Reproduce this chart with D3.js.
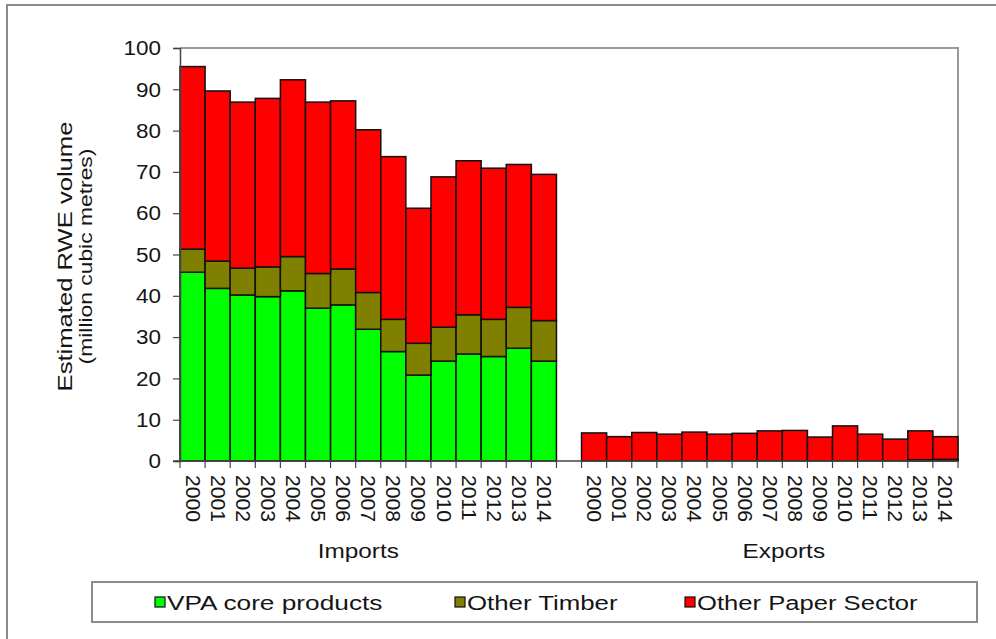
<!DOCTYPE html>
<html>
<head>
<meta charset="utf-8">
<script src="https://cdn.jsdelivr.net/npm/d3@7/dist/d3.min.js"></script>
<style>
  html, body { margin: 0; padding: 0; background: #fff; }
  svg { display: block; font-family: "Liberation Sans", Arial, sans-serif; }
</style>
</head>
<body>
<svg id="chart" width="996" height="639"></svg>
<script>
// Estimated RWE volume (million cubic metres), imports and exports by year
const years = ["2000","2001","2002","2003","2004","2005","2006","2007","2008","2009","2010","2011","2012","2013","2014"];
const groups = ["Imports", "Exports"];
const seriesNames = ["VPA core products", "Other Timber", "Other Paper Sector"];
const seriesColors = ["#00ff00", "#808000", "#ff0000"];

const importsVPA    = [45.7, 41.8, 40.2, 39.8, 41.2, 37.0, 37.8, 31.9, 26.5, 20.8, 24.2, 25.9, 25.3, 27.3, 24.2];
const importsTimber = [5.6, 6.6, 6.5, 7.2, 8.3, 8.4, 8.7, 8.9, 7.8, 7.7, 8.2, 9.5, 9.0, 9.9, 9.8];
const importsPaper  = [44.2, 41.2, 40.2, 40.8, 42.8, 41.5, 40.7, 39.4, 39.4, 32.7, 36.4, 37.3, 36.6, 34.6, 35.4];

const exportsVPA    = [0, 0, 0, 0, 0, 0, 0, 0, 0, 0, 0, 0, 0, 0.1, 0.3];
const exportsTimber = [0, 0, 0, 0, 0, 0, 0, 0, 0, 0, 0, 0, 0, 0.2, 0.1];
const exportsPaper  = [6.8, 5.9, 6.9, 6.5, 7.0, 6.5, 6.7, 7.3, 7.4, 5.8, 8.5, 6.5, 5.3, 7.0, 5.5];

const yTicks = [0, 10, 20, 30, 40, 50, 60, 70, 80, 90, 100];

// Build rows: imports, an empty spacer category, then exports
const rows = [];
years.forEach((y, i) => rows.push({ key: "I" + y, year: y, group: "Imports", v: [importsVPA[i], importsTimber[i], importsPaper[i]] }));
rows.push({ key: "gap", year: "", group: null, v: [0, 0, 0] });
years.forEach((y, i) => rows.push({ key: "E" + y, year: y, group: "Exports", v: [exportsVPA[i], exportsTimber[i], exportsPaper[i]] }));

const svg = d3.select("#chart");
const plot = { left: 180, right: 958, top: 48, bottom: 461 };
const textColor = "#151515";

const x = d3.scaleBand().domain(rows.map(r => r.key)).range([plot.left, plot.right]).padding(0);
const y = d3.scaleLinear().domain([0, 100]).range([plot.bottom, plot.top]);

// Outer frame
svg.append("path")
  .attr("d", `M7,639 L7,5 L996,5`)
  .attr("fill", "none").attr("stroke", "#8c8c8c").attr("stroke-width", 2);

// Plot area frame (top and right)
svg.append("path")
  .attr("d", `M${plot.left},${plot.top} L${plot.right},${plot.top} L${plot.right},${plot.bottom}`)
  .attr("fill", "none").attr("stroke", "#9a9a9a").attr("stroke-width", 2);

// Stacked bars
const stackData = rows.map(r => ({ key: r.key, s0: r.v[0], s1: r.v[1], s2: r.v[2] }));
const stacked = d3.stack().keys(["s0", "s1", "s2"])(stackData);

svg.append("g").selectAll("g")
  .data(stacked)
  .join("g")
  .attr("fill", (d, i) => seriesColors[i])
  .selectAll("rect")
  .data(d => d.filter(p => p[1] - p[0] > 0))
  .join("rect")
  .attr("x", d => x(d.data.key))
  .attr("width", x.bandwidth())
  .attr("y", d => y(d[1]))
  .attr("height", d => y(d[0]) - y(d[1]))
  .attr("stroke", "#111")
  .attr("stroke-width", 1.5);

// Y axis
const yAxis = d3.axisLeft(y).tickValues(yTicks).tickSize(7).tickPadding(12);
const gy = svg.append("g").attr("transform", `translate(${plot.left},0)`).call(yAxis);
gy.select(".domain").attr("stroke", "#444").attr("stroke-width", 1.5);
gy.selectAll(".tick line").attr("stroke", "#444").attr("stroke-width", 1.2);
gy.selectAll(".tick text")
  .attr("font-size", 21).attr("fill", textColor)
  .attr("font-family", "Liberation Sans, Arial, sans-serif")
  .attr("transform", function () {
    // slight horizontal widening around the right edge
    const xx = +d3.select(this).attr("x");
    return `translate(${xx},0) scale(1.07,1) translate(${-xx},0)`;
  });

// X axis line with tick marks between categories
const gx = svg.append("g");
gx.append("line")
  .attr("x1", plot.left - 7).attr("x2", plot.right)
  .attr("y1", plot.bottom).attr("y2", plot.bottom)
  .attr("stroke", "#444").attr("stroke-width", 1.5);
const bounds = d3.range(rows.length + 1).map(i => plot.left + i * x.step());
gx.selectAll("line.tk").data(bounds).join("line").attr("class", "tk")
  .attr("x1", d => d).attr("x2", d => d)
  .attr("y1", plot.bottom).attr("y2", plot.bottom + 7)
  .attr("stroke", "#444").attr("stroke-width", 1.2);

// Rotated year labels
gx.selectAll("text.yr").data(rows.filter(r => r.year)).join("text").attr("class", "yr")
  .attr("transform", d => `translate(${x(d.key) + x.bandwidth() / 2 - 7},${plot.bottom + 14}) rotate(90) scale(1.06,1)`)
  .attr("font-size", 20).attr("fill", textColor)
  .text(d => d.year);

// Group labels
const groupOffset = { Imports: -10, Exports: 14 };
groups.forEach(g => {
  const keys = rows.filter(r => r.group === g).map(r => r.key);
  const cx = (x(keys[0]) + x(keys[keys.length - 1]) + x.bandwidth()) / 2 + groupOffset[g];
  svg.append("text")
    .attr("transform", `translate(${cx},558) scale(1.16,1)`)
    .attr("text-anchor", "middle").attr("font-size", 21).attr("fill", textColor)
    .text(g);
});

// Y axis title
const midY = (plot.top + plot.bottom) / 2;
svg.append("text")
  .attr("transform", `translate(72,${midY + 2}) rotate(-90) scale(1.22,1)`)
  .attr("text-anchor", "middle").attr("font-size", 21).attr("fill", textColor)
  .text("Estimated RWE volume");
svg.append("text")
  .attr("transform", `translate(92,${midY + 2}) rotate(-90) scale(1.27,1)`)
  .attr("text-anchor", "middle").attr("font-size", 18).attr("fill", textColor)
  .text("(million cubic metres)");

// Legend
const legend = svg.append("g");
legend.append("rect")
  .attr("x", 92).attr("y", 582).attr("width", 885).attr("height", 40)
  .attr("fill", "#fff").attr("stroke", "#8c8c8c").attr("stroke-width", 2);
const legendX = [155, 455, 685];
const legendScale = [1.25, 1.23, 1.22];
seriesNames.forEach((name, i) => {
  const gL = legend.append("g").attr("transform", `translate(${legendX[i]},0)`);
  gL.append("rect").attr("x", 0).attr("y", 597).attr("width", 10).attr("height", 10)
    .attr("fill", seriesColors[i]).attr("stroke", "#111").attr("stroke-width", 1.2);
  gL.append("text")
    .attr("transform", `translate(12,610) scale(${legendScale[i]},1)`)
    .attr("font-size", 21).attr("fill", textColor)
    .text(name);
});
</script>
</body>
</html>
